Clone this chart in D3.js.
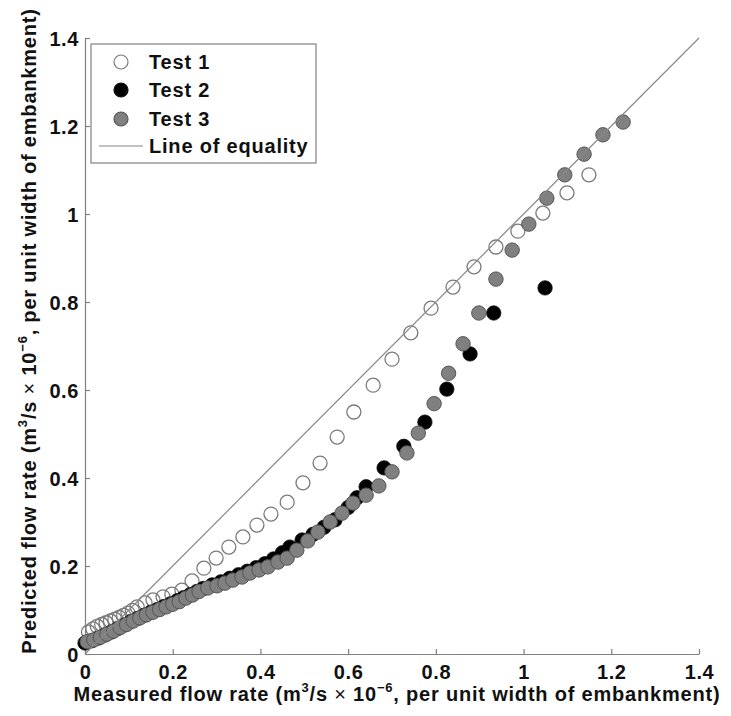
<!DOCTYPE html>
<html><head><meta charset="utf-8">
<script src="https://cdn.jsdelivr.net/npm/d3@7"></script>
<style>body{margin:0;background:#fff}svg{display:block}</style>
</head><body>
<svg id="c" width="731" height="716"></svg>
<script>
const ticks = [0, 0.2, 0.4, 0.6, 0.8, 1, 1.2, 1.4];
const tickLabels = ["0", "0.2", "0.4", "0.6", "0.8", "1", "1.2", "1.4"];
const seriesNames = ["Test 1", "Test 2", "Test 3", "Line of equality"];
const test1X = [0.008,0.018,0.028,0.038,0.048,0.058,0.068,0.078,0.088,0.098,0.108,0.119,0.137,0.155,0.178,0.198,0.221,0.244,0.271,0.299,0.328,0.360,0.392,0.424,0.461,0.497,0.536,0.575,0.613,0.657,0.700,0.743,0.789,0.839,0.887,0.937,0.987,1.044,1.099,1.149];
const test1Y = [0.050,0.057,0.063,0.067,0.071,0.075,0.079,0.083,0.088,0.093,0.099,0.107,0.116,0.123,0.130,0.136,0.145,0.166,0.195,0.218,0.243,0.266,0.293,0.318,0.345,0.389,0.434,0.493,0.550,0.611,0.670,0.730,0.786,0.834,0.880,0.925,0.961,1.002,1.048,1.089];
const test2X = [0.000,0.015,0.030,0.045,0.060,0.075,0.090,0.105,0.120,0.135,0.150,0.165,0.180,0.195,0.210,0.225,0.240,0.255,0.270,0.290,0.310,0.330,0.350,0.370,0.390,0.410,0.430,0.450,0.467,0.495,0.520,0.545,0.570,0.600,0.620,0.641,0.682,0.727,0.775,0.825,0.878,0.932,1.049];
const test2Y = [0.025,0.030,0.036,0.043,0.050,0.058,0.066,0.074,0.081,0.088,0.095,0.101,0.108,0.114,0.121,0.128,0.135,0.142,0.149,0.157,0.164,0.172,0.180,0.188,0.196,0.205,0.216,0.230,0.243,0.259,0.272,0.288,0.305,0.333,0.355,0.380,0.423,0.472,0.527,0.602,0.682,0.775,0.832];
const test3X = [0.005,0.020,0.035,0.050,0.065,0.080,0.095,0.110,0.125,0.140,0.155,0.170,0.185,0.200,0.215,0.230,0.245,0.260,0.280,0.301,0.319,0.337,0.358,0.376,0.397,0.417,0.440,0.461,0.483,0.508,0.531,0.559,0.586,0.611,0.641,0.670,0.700,0.734,0.760,0.796,0.829,0.862,0.898,0.937,0.974,1.012,1.053,1.094,1.138,1.181,1.227];
const test3Y = [0.028,0.032,0.038,0.045,0.052,0.060,0.067,0.075,0.082,0.089,0.095,0.101,0.107,0.113,0.119,0.127,0.134,0.142,0.150,0.155,0.161,0.168,0.175,0.184,0.191,0.198,0.209,0.218,0.236,0.257,0.277,0.300,0.320,0.343,0.361,0.382,0.414,0.457,0.502,0.569,0.638,0.705,0.775,0.852,0.918,0.977,1.036,1.089,1.136,1.180,1.209];
const equalityX = [0, 1.4];
const equalityY = [0, 1.4];

const svg = d3.select("#c");
const font = "'Liberation Sans', Arial, sans-serif";
const x = d3.scaleLinear().domain([0, 1.4]).range([85, 699]);
const y = d3.scaleLinear().domain([0, 1.4]).range([654, 38]);
const axisColor = "#808080";

// axes
const gx = svg.append("g").attr("transform", "translate(0,654)")
  .call(d3.axisBottom(x).tickValues(ticks).tickSizeInner(-5).tickSizeOuter(0).tickPadding(11)
    .tickFormat((d, i) => tickLabels[i]));
const gy = svg.append("g").attr("transform", "translate(85,0)")
  .call(d3.axisLeft(y).tickValues(ticks).tickSizeInner(-5).tickSizeOuter(0).tickPadding(6)
    .tickFormat((d, i) => tickLabels[i]));
[gx, gy].forEach(g => {
  g.select(".domain").attr("stroke", axisColor).attr("stroke-width", 1.2);
  g.selectAll(".tick line").attr("stroke", axisColor).attr("stroke-width", 1.2);
  g.selectAll(".tick text").attr("fill", "#111").attr("font-family", font)
    .attr("font-weight", "bold").attr("font-size", 20).attr("letter-spacing", 0.6);
});
gx.selectAll(".tick text").attr("dy", "0.72em");
gy.selectAll(".tick text").attr("dy", "0.35em");

// data
function pts(xs, ys) { return xs.map((v, i) => [v, ys[i]]); }
svg.append("g").selectAll("circle").data(pts(test1X, test1Y)).join("circle")
  .attr("cx", d => x(d[0])).attr("cy", d => y(d[1])).attr("r", 7)
  .attr("fill", "none").attr("stroke", "#7a7a7a").attr("stroke-width", 1.3);
svg.append("g").selectAll("circle").data(pts(test2X, test2Y)).join("circle")
  .attr("cx", d => x(d[0])).attr("cy", d => y(d[1])).attr("r", 7.2)
  .attr("fill", "#000").attr("stroke", "#111").attr("stroke-width", 0.8);
svg.append("g").selectAll("circle").data(pts(test3X, test3Y)).join("circle")
  .attr("cx", d => x(d[0])).attr("cy", d => y(d[1])).attr("r", 7.2)
  .attr("fill", "#808080").attr("stroke", "#555").attr("stroke-width", 1);

svg.append("path").datum(pts(equalityX, equalityY))
  .attr("d", d3.line().x(d => x(d[0])).y(d => y(d[1])))
  .attr("fill", "none").attr("stroke", "#888").attr("stroke-width", 1.2);

// legend
const lg = svg.append("g");
lg.append("rect").attr("x", 91).attr("y", 44).attr("width", 225).attr("height", 119)
  .attr("fill", "#fff").attr("stroke", "#808080").attr("stroke-width", 1.2);
const ly = [62, 90, 119, 146];
const legStyles = [
  {fill: "#fff", stroke: "#7a7a7a"},
  {fill: "#000", stroke: "#111"},
  {fill: "#808080", stroke: "#555"}
];
legStyles.forEach((s, i) => {
  lg.append("circle").attr("cx", 121).attr("cy", ly[i]).attr("r", 7)
    .attr("fill", s.fill).attr("stroke", s.stroke).attr("stroke-width", 1.2);
});
lg.append("line").attr("x1", 99).attr("x2", 143).attr("y1", ly[3]).attr("y2", ly[3])
  .attr("stroke", "#888").attr("stroke-width", 1.2);
seriesNames.forEach((n, i) => {
  lg.append("text").attr("x", 149).attr("y", ly[i]).attr("dy", "0.36em")
    .attr("font-family", font).attr("font-weight", "bold").attr("font-size", 20)
    .attr("letter-spacing", 0.8).attr("fill", "#111").text(n);
});

// axis labels
function label(g, pre) {
  const t = g.append("text").attr("font-family", font).attr("font-weight", "bold")
    .attr("font-size", 20).attr("letter-spacing", 0.8).attr("fill", "#111").attr("text-anchor", "middle");
  t.append("tspan").text(pre + " (m");
  t.append("tspan").attr("font-size", 13).attr("dy", -9).text("3");
  t.append("tspan").attr("dy", 9).text("/s ");
  t.append("tspan").attr("font-weight", "normal").text("×");
  t.append("tspan").text(" 10");
  t.append("tspan").attr("font-size", 13).attr("dy", -9).text("−6");
  t.append("tspan").attr("dy", 9).text(", per unit width of embankment)");
  return t;
}
label(svg.append("g").attr("transform", "translate(397,701)"), "Measured flow rate");
label(svg.append("g").attr("transform", "translate(36,331) rotate(-90)"), "Predicted flow rate");
</script>
</body></html>
